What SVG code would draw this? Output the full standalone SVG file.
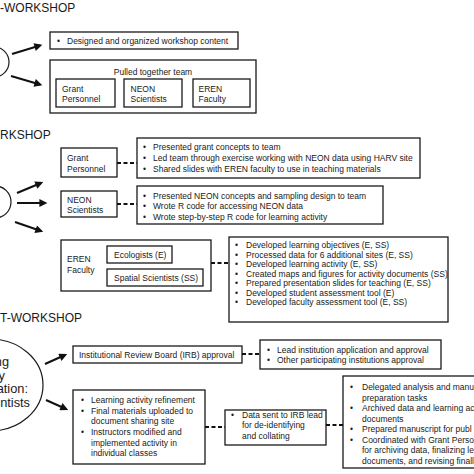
<svg xmlns="http://www.w3.org/2000/svg" width="474" height="474" viewBox="0 0 474 474">
<style>
text{font-family:"Liberation Sans",Arial,sans-serif;fill:#1a1a1a;}
.t{font-size:8.5px;}
.h{font-size:12px;}
.e{font-size:12.8px;}
.box{fill:#fff;stroke:#1a1a1a;stroke-width:1.3;}
.hub{fill:#fff;stroke:#1a1a1a;stroke-width:1.2;}
.arr{stroke:#111;stroke-width:2;fill:none;marker-end:url(#ah);}
.dash{stroke:#111;stroke-width:1.8;stroke-dasharray:4 2.5;fill:none;}
</style>
<defs>
<marker id="ah" viewBox="0 0 10 10" refX="7" refY="5" markerWidth="9" markerHeight="8" markerUnits="userSpaceOnUse" orient="auto"><path d="M0,0 L10,5 L0,10 z" fill="#111"/></marker>
</defs>
<rect width="474" height="474" fill="#fff"/>

<!-- Section 1 -->
<g id="title-pre"><text class="h" x="0" y="11.5">-WORKSHOP</text></g>
<g id="hub-pre"><circle class="hub" cx="-6" cy="62" r="15"/></g>
<g id="box-designed">
<rect class="box" x="50" y="32" width="188" height="17"/>
<text class="t" x="57" y="43.5">•</text>
<text class="t" x="67" y="43.5">Designed and organized workshop content</text>
</g>
<g id="box-team">
<rect class="box" x="50" y="60" width="206" height="53"/>
<text class="t" x="153" y="75" text-anchor="middle">Pulled together team</text>
<g id="team-grant"><rect class="box" x="56" y="79" width="59" height="28"/><text class="t" x="62" y="91.5">Grant</text><text class="t" x="62" y="101.5">Personnel</text></g>
<g id="team-neon"><rect class="box" x="124" y="79" width="58" height="28"/><text class="t" x="130.5" y="91.5">NEON</text><text class="t" x="130.5" y="101.5">Scientists</text></g>
<g id="team-eren"><rect class="box" x="193" y="79" width="57" height="28"/><text class="t" x="198.5" y="91.5">EREN</text><text class="t" x="198.5" y="101.5">Faculty</text></g>
</g>

<!-- Section 2 -->
<g id="title-during"><text class="h" x="0" y="139">RKSHOP</text></g>
<g id="hub-during"><circle class="hub" cx="-5" cy="202" r="16"/></g>
<g id="node-grant">
<rect class="box" x="61" y="148" width="56" height="29"/>
<text class="t" x="67" y="160.5">Grant</text><text class="t" x="67" y="171.5">Personnel</text>
</g>
<g id="bullets-grant">
<rect class="box" x="137" y="138" width="283" height="40"/>
<text class="t" x="143" y="150">•</text><text class="t" x="153" y="150">Presented grant concepts to team</text>
<text class="t" x="143" y="161">•</text><text class="t" x="153" y="161">Led team through exercise working with NEON data using HARV site</text>
<text class="t" x="143" y="172">•</text><text class="t" x="153" y="172">Shared slides with EREN faculty to use in teaching materials</text>
</g>
<g id="node-neon">
<rect class="box" x="61" y="191" width="56" height="26"/>
<text class="t" x="67" y="202.5">NEON</text><text class="t" x="67" y="213">Scientists</text>
</g>
<g id="bullets-neon">
<rect class="box" x="137" y="186" width="246" height="38"/>
<text class="t" x="143" y="198.5">•</text><text class="t" x="153" y="198.5">Presented NEON concepts and sampling design to team</text>
<text class="t" x="143" y="209">•</text><text class="t" x="153" y="209">Wrote R code for accessing NEON data</text>
<text class="t" x="143" y="219.5">•</text><text class="t" x="153" y="219.5">Wrote step-by-step R code for learning activity</text>
</g>
<g id="node-eren">
<rect class="box" x="61" y="240" width="150" height="51"/>
<text class="t" x="67" y="262">EREN</text><text class="t" x="67" y="273">Faculty</text>
<g id="eren-eco"><rect class="box" x="107" y="246" width="65" height="17"/><text class="t" x="114" y="257.5">Ecologists (E)</text></g>
<g id="eren-ss"><rect class="box" x="107" y="269" width="96" height="17"/><text class="t" x="114" y="280.5">Spatial Scientists (SS)</text></g>
</g>
<g id="bullets-eren">
<rect class="box" x="229" y="237" width="219" height="85"/>
<text class="t" x="235" y="248">•</text><text class="t" x="246" y="248">Developed learning objectives (E, SS)</text>
<text class="t" x="235" y="257.5">•</text><text class="t" x="246" y="257.5">Processed data for 6 additional sites (E, SS)</text>
<text class="t" x="235" y="267">•</text><text class="t" x="246" y="267">Developed learning activity (E, SS)</text>
<text class="t" x="235" y="276.5">•</text><text class="t" x="246" y="276.5">Created maps and figures for activity documents (SS)</text>
<text class="t" x="235" y="286">•</text><text class="t" x="246" y="286">Prepared presentation slides for teaching (E, SS)</text>
<text class="t" x="235" y="295.5">•</text><text class="t" x="246" y="295.5">Developed student assessment tool (E)</text>
<text class="t" x="235" y="305">•</text><text class="t" x="246" y="305">Developed faculty assessment tool (E, SS)</text>
</g>

<!-- Section 3 -->
<g id="title-post"><text class="h" x="0" y="322">T-WORKSHOP</text></g>
<g id="hub-post">
<ellipse class="hub" cx="-10" cy="385" rx="53" ry="46"/>
<text class="e" x="9" y="366" text-anchor="end">ng</text>
<text class="e" x="5" y="379.5" text-anchor="end">y</text>
<text class="e" x="28" y="393" text-anchor="end">ation:</text>
<text class="e" x="30" y="406.5" text-anchor="end">ntists</text>
</g>
<g id="node-irb">
<rect class="box" x="73" y="346" width="169" height="17"/>
<text class="t" x="79" y="357.5">Institutional Review Board (IRB) approval</text>
</g>
<g id="bullets-irb">
<rect class="box" x="260" y="340" width="181" height="29"/>
<text class="t" x="267" y="352.5">•</text><text class="t" x="277" y="352.5">Lead institution application and approval</text>
<text class="t" x="267" y="363">•</text><text class="t" x="277" y="363">Other participating institutions approval</text>
</g>
<g id="node-learning">
<rect class="box" x="73" y="390" width="132" height="74"/>
<text class="t" x="81" y="403">•</text><text class="t" x="91" y="403">Learning activity refinement</text>
<text class="t" x="81" y="413.7">•</text><text class="t" x="91" y="413.7">Final materials uploaded to</text>
<text class="t" x="91" y="424.3">document sharing site</text>
<text class="t" x="81" y="435">•</text><text class="t" x="91" y="435">Instructors modified and</text>
<text class="t" x="91" y="445.7">implemented activity in</text>
<text class="t" x="91" y="456.3">individual classes</text>
</g>
<g id="node-data">
<rect class="box" x="225" y="410" width="101" height="35"/>
<text class="t" x="231" y="417.5">•</text><text class="t" x="242" y="417.5">Data sent to IRB lead</text>
<text class="t" x="242" y="428.2">for de-identifying</text>
<text class="t" x="242" y="438.9">and collating</text>
</g>
<g id="node-final">
<rect class="box" x="343" y="376" width="140" height="92"/>
<text class="t" x="350" y="390">•</text><text class="t" x="362" y="390">Delegated analysis and manu</text>
<text class="t" x="362" y="400.5">preparation tasks</text>
<text class="t" x="350" y="411">•</text><text class="t" x="362" y="411">Archived data and learning ac</text>
<text class="t" x="362" y="421.5">documents</text>
<text class="t" x="350" y="432">•</text><text class="t" x="362" y="432">Prepared manuscript for publ</text>
<text class="t" x="350" y="442.5">•</text><text class="t" x="362" y="442.5">Coordinated with Grant Perso</text>
<text class="t" x="362" y="453">for archiving data, finalizing le</text>
<text class="t" x="362" y="463.5">documents, and revising finall</text>
</g>

<g id="connectors">
<line class="arr" x1="12" y1="54" x2="40" y2="45.5"/>
<line class="arr" x1="11" y1="76" x2="40" y2="84.5"/>
<line class="arr" x1="17" y1="193" x2="41" y2="183"/>
<line class="arr" x1="17" y1="203" x2="45" y2="203"/>
<line class="arr" x1="15" y1="222" x2="41" y2="231"/>
<line class="arr" x1="45" y1="364" x2="65" y2="355"/>
<line class="arr" x1="46" y1="400" x2="66" y2="409"/>
<line class="dash" x1="117" y1="163" x2="137" y2="163"/>
<line class="dash" x1="117" y1="204" x2="137" y2="204"/>
<line class="dash" x1="211" y1="263" x2="229" y2="263"/>
<line class="dash" x1="242" y1="354" x2="260" y2="354"/>
<line class="dash" x1="205" y1="427" x2="225" y2="427"/>
<line class="dash" x1="326" y1="425" x2="343" y2="425"/>
</g>
</svg>
